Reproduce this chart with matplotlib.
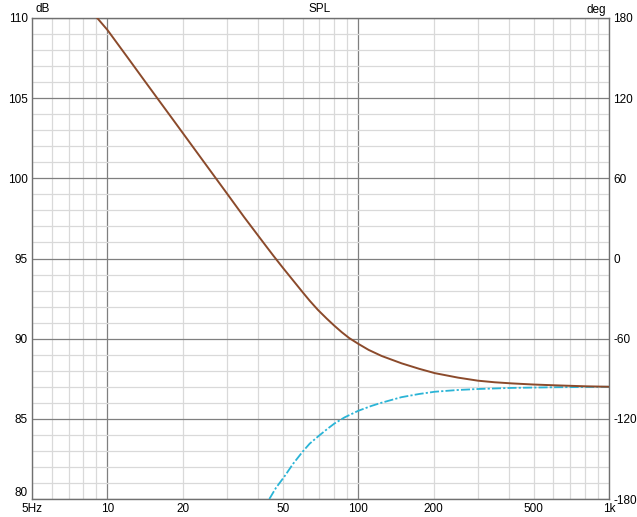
import matplotlib
matplotlib.use("Agg")
import matplotlib.pyplot as plt
from matplotlib.ticker import FixedLocator, NullFormatter

# ---- data ----
spl_freq = [9.1, 10, 12, 14, 16, 18, 20, 23, 27, 30, 35, 40, 43, 46, 50, 55, 60, 64, 69,
            75, 80.4, 86, 92, 100, 110, 124, 149, 175, 202, 250, 300, 350, 410, 500, 610, 800, 1000]
spl_db = [110.0, 109.25, 107.56, 106.12, 104.88, 103.79, 102.81, 101.51, 100.02, 99.04, 97.6, 96.4,
          95.75, 95.15, 94.43, 93.63, 92.9, 92.37, 91.8, 91.24, 90.8, 90.4, 90.04, 89.68, 89.3, 88.92,
          88.46, 88.12, 87.85, 87.57, 87.38, 87.28, 87.21, 87.14, 87.09, 87.03, 87.0]

cyan_freq = [44.2, 47, 50.7, 55, 60, 64, 68.9, 75, 80.4, 88.2, 100, 112.6, 123.6, 148.6, 175,
             202, 250, 300, 410, 610, 1000]
cyan_db = [80.0, 80.7, 81.39, 82.2, 82.95, 83.45, 83.88, 84.35, 84.71, 85.09, 85.5, 85.8, 86.0,
           86.35, 86.55, 86.69, 86.8, 86.86, 86.93, 86.97, 87.0]

x_major = [10, 100]
x_labels = {5: "5Hz", 10: "10", 20: "20", 50: "50", 100: "100", 200: "200", 500: "500", 1000: "1k"}
y_left_ticks = [80, 85, 90, 95, 100, 105, 110]
y_right_ticks = [-180, -120, -60, 0, 60, 120, 180]

plt.rcParams['font.family'] = ['Liberation Sans', 'DejaVu Sans']
FS = 8.5

fig = plt.figure(figsize=(6.37, 5.17), dpi=100)
ax = fig.add_axes([32 / 637, 1 - 499 / 517, (609 - 32) / 637, (499 - 18) / 517])

ax.set_xscale('log')
ax.set_xlim(5, 1000)
ax.set_ylim(80, 110)

x_minor = []
for dec in (1, 10, 100):
    for m in range(1, 10):
        v = m * dec
        if 5 <= v <= 1000 and v not in x_major:
            x_minor.append(v)
x_minor.append(1000)

ax.xaxis.set_major_locator(FixedLocator(x_major))
ax.xaxis.set_major_formatter(NullFormatter())
ax.xaxis.set_minor_locator(FixedLocator(x_minor))
ax.xaxis.set_minor_formatter(NullFormatter())

ax.yaxis.set_major_locator(FixedLocator(y_left_ticks))
ax.yaxis.set_minor_locator(FixedLocator([v for v in range(80, 111) if v % 5 != 0]))

ax.grid(which='minor', color='#d9d9d9', linewidth=0.9)
ax.grid(which='major', color='#7f7f7f', linewidth=0.9)
ax.set_axisbelow(True)

for s in ax.spines.values():
    s.set_color('#707070')
    s.set_linewidth(1.0)

ax.tick_params(which='both', length=0)
ax.tick_params(axis='y', labelsize=FS, pad=3)
ax.set_yticklabels([str(v) for v in y_left_ticks])
ax.get_yticklabels()[0].set_va('bottom')

for f, lab in x_labels.items():
    ax.text(f, -0.008, lab, transform=ax.get_xaxis_transform(), ha='center', va='top', fontsize=FS)

ax.plot(spl_freq, spl_db, color='#8b4a2b', linewidth=1.4, zorder=4, solid_joinstyle='round')
ax.plot(cyan_freq, cyan_db, color='#2ab4d6', linewidth=1.3, linestyle=(0, (5, 1.2, 1.2, 1.2)), zorder=3)

ax2 = ax.twinx()
ax2.set_ylim(-180, 180)
ax2.yaxis.set_major_locator(FixedLocator(y_right_ticks))
ax2.set_yticklabels([str(v) for v in y_right_ticks])
ax2.tick_params(length=0, labelsize=FS, pad=3)
for s in ax2.spines.values():
    s.set_visible(False)

fig.text(35 / 637, 1 - 9 / 517, "dB", ha='left', va='center', fontsize=FS)
fig.text(606 / 637, 1 - 10 / 517, "deg", ha='right', va='center', fontsize=FS)
fig.text(320 / 637, 1 - 9 / 517, "SPL", ha='center', va='center', fontsize=FS)

fig.savefig("out.png", dpi=100, facecolor='white')
